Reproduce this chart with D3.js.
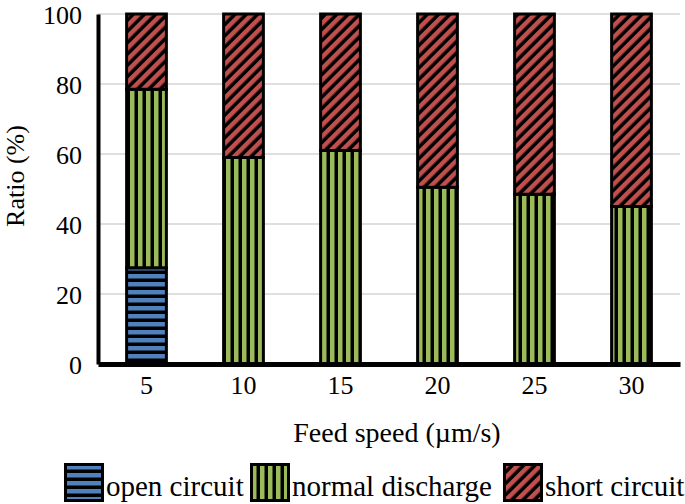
<!DOCTYPE html>
<html>
<head>
<meta charset="utf-8">
<script src="https://cdn.jsdelivr.net/npm/d3@7"></script>
<style>
  body { margin: 0; background: #fff; }
  svg text { font-family: "Liberation Serif", "Times New Roman", Times, "DejaVu Serif", serif !important; fill: #000; }
</style>
</head>
<body>
<div id="chart"></div>
<script>
// feed speed categories (um/s)
var speeds = ['5', '10', '15', '20', '25', '30'];
var openCircuit = [27.5, 0, 0, 0, 0, 0];
var normalDischarge = [51, 59, 61, 50.5, 48.5, 45];
var shortCircuit = [21.5, 41, 39, 49.5, 51.5, 55];
var yTicks = [0, 20, 40, 60, 80, 100];
var seriesNames = ['open circuit', 'normal discharge', 'short circuit'];

var width = 685, height = 504;
var margin = { left: 98, right: 5, top: 14, bottom: 140 };

var svg = d3.select('#chart').append('svg')
  .attr('width', width)
  .attr('height', height);

// patterns: coloured stripes on black
var defs = svg.append('defs');
function stripes(id, color, rotate) {
  var p = defs.append('pattern')
    .attr('id', id)
    .attr('patternUnits', 'userSpaceOnUse')
    .attr('width', 8)
    .attr('height', 8);
  if (rotate) p.attr('patternTransform', 'rotate(' + rotate + ')');
  p.append('rect').attr('width', 8).attr('height', 8).attr('fill', '#000');
  p.append('rect').attr('x', 2).attr('width', 4.5).attr('height', 8).attr('fill', color);
}
stripes('pOpen', '#4f81bd', 90);
stripes('pNormal', '#9bbb59', 0);
stripes('pShort', '#c0504d', 45);
var fills = ['url(#pOpen)', 'url(#pNormal)', 'url(#pShort)'];

var x = d3.scaleBand()
  .domain(speeds)
  .range([margin.left, width - margin.right])
  .paddingInner(0.59)
  .paddingOuter(0.295);

var y = d3.scaleLinear()
  .domain([0, 100])
  .range([height - margin.bottom, margin.top]);

// gridlines
svg.append('g')
  .selectAll('line')
  .data(yTicks.slice(1))
  .enter()
  .append('line')
  .attr('x1', margin.left)
  .attr('x2', width - margin.right)
  .attr('y1', function (d) { return y(d); })
  .attr('y2', function (d) { return y(d); })
  .attr('stroke', '#bfbfbf')
  .attr('stroke-width', 1.2);

var rows = speeds.map(function (s, i) {
  return { speed: s, open: openCircuit[i], normal: normalDischarge[i], short: shortCircuit[i] };
});
var stacked = d3.stack().keys(['open', 'normal', 'short'])(rows);

svg.append('g')
  .selectAll('g')
  .data(stacked)
  .enter()
  .append('g')
  .attr('fill', function (d, i) { return fills[i]; })
  .selectAll('rect')
  .data(function (d) { return d.filter(function (e) { return e[1] - e[0] > 0; }); })
  .enter()
  .append('rect')
  .attr('x', function (d) { return x(d.data.speed); })
  .attr('y', function (d) { return y(d[1]); })
  .attr('width', x.bandwidth())
  .attr('height', function (d) { return y(d[0]) - y(d[1]); })
  .attr('stroke', '#000')
  .attr('stroke-width', 3);

// axes
var yAxis = d3.axisLeft(y).tickValues(yTicks).tickSize(0).tickPadding(16);
var gy = svg.append('g')
  .attr('transform', 'translate(' + margin.left + ',0)')
  .call(yAxis)
  .attr('font-family', null)
  .attr('font-size', 26);
gy.select('.domain').attr('stroke', '#000').attr('stroke-width', 4);
gy.selectAll('text').attr('dy', '0.35em');

var xAxis = d3.axisBottom(x).tickSize(0).tickPadding(12);
var gx = svg.append('g')
  .attr('transform', 'translate(0,' + (height - margin.bottom) + ')')
  .call(xAxis)
  .attr('font-family', null)
  .attr('font-size', 26);
gx.select('.domain').attr('stroke', '#000').attr('stroke-width', 5);

svg.append('text')
  .attr('transform', 'rotate(-90)')
  .attr('x', -176)
  .attr('y', 24)
  .attr('text-anchor', 'middle')
  .attr('font-size', 26)
  .text('Ratio (%)');

svg.append('text')
  .attr('x', 397)
  .attr('y', 442)
  .attr('text-anchor', 'middle')
  .attr('font-size', 28)
  .text('Feed speed (\u00b5m/s)');

// legend
var legendX = [64, 250, 503];
var lg = svg.append('g')
  .selectAll('g')
  .data(seriesNames)
  .enter()
  .append('g')
  .attr('transform', function (d, i) { return 'translate(' + legendX[i] + ',463)'; });
lg.append('rect')
  .attr('x', 1.5).attr('y', 1.5)
  .attr('width', 37).attr('height', 36)
  .attr('fill', function (d, i) { return fills[i]; })
  .attr('stroke', '#000')
  .attr('stroke-width', 3);
lg.append('text')
  .attr('x', 42)
  .attr('y', 33)
  .attr('font-size', 29)
  .text(function (d) { return d; });
</script>
</body>
</html>
